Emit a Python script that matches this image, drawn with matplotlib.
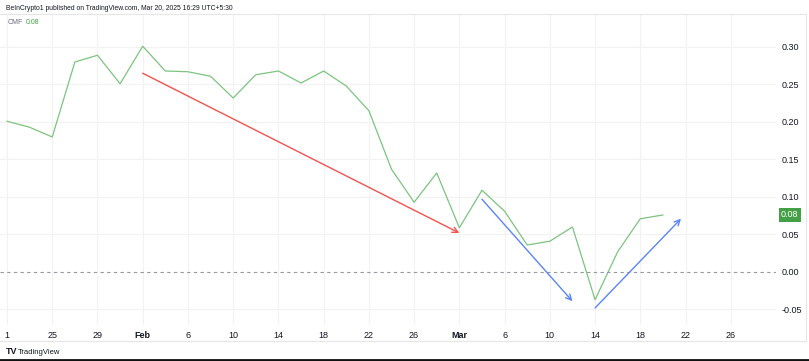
import numpy as np
import matplotlib
matplotlib.use("Agg")
import matplotlib.pyplot as plt

plt.rcParams['font.family'] = ['Liberation Sans Narrow', 'Liberation Sans', 'DejaVu Sans']

# CMF values, one per bar (bar index 0..29)
cmf = [0.201, 0.193, 0.180, 0.280, 0.289, 0.251, 0.301, 0.268, 0.267, 0.261,
       0.232, 0.263, 0.268, 0.252, 0.268, 0.248, 0.215, 0.137, 0.093, 0.132,
       0.059, 0.109, 0.081, 0.036, 0.041, 0.060, -0.037, 0.027, 0.071, 0.076]
last_label = '0.08'

tick_pos = list(range(0, 33, 2))
tick_labels = ['1', '25', '29', 'Feb', '6', '10', '14', '18', '22', '26',
               'Mar', '6', '10', '14', '18', '22', '26']
y_ticks = [-0.05, 0.00, 0.05, 0.10, 0.15, 0.20, 0.25, 0.30]

# annotation arrows: (x0, y0, x1, y1, colour)
arrows = [
    (6, 0.265, 20, 0.052, '#f4514f'),
    (21, 0.097, 25, -0.039, '#5b84f5'),
    (26, -0.048, 29.8, 0.071, '#5b84f5'),
]

W, H = 809, 361
fig = plt.figure(figsize=(W / 100, H / 100), dpi=100)
ax = fig.add_axes([0, 1 - 325 / H, 776 / W, (325 - 14) / H])

x = np.arange(len(cmf))
ax.plot(x, cmf, color='#7cc47f', lw=0.9)

for x0, y0, x1, y1, c in arrows:
    ax.annotate('', xy=(x1, y1), xytext=(x0, y0),
                arrowprops=dict(arrowstyle='->', color=c, lw=1.0,
                                mutation_scale=10, shrinkA=0, shrinkB=0))

ax.axhline(0, color='#9598a1', lw=0.8, ls=(0, (3, 3)))
for yt in y_ticks:
    if yt != 0:
        ax.axhline(yt, color='#f2f2f2', lw=0.8, zorder=0)
for xt in tick_pos:
    ax.axvline(xt, color='#f2f2f2', lw=0.8, zorder=0)

ax.set_xlim(-0.31, 34.0)
ax.set_ylim(-0.0707, 0.344)

ax.set_xticks(tick_pos)
ax.set_xticklabels(tick_labels)
for lab in ax.get_xticklabels():
    if lab.get_text() in ('Feb', 'Mar'):
        lab.set_fontweight('bold')
ax.tick_params(axis='x', length=0, pad=4, labelsize=6.5, labelcolor='#131722')

ax.yaxis.tick_right()
ax.set_yticks(y_ticks)
ax.set_yticklabels([f'{v:.2f}' for v in y_ticks])
ax.tick_params(axis='y', length=0, pad=4, labelsize=6.5, labelcolor='#131722')

for s in ax.spines.values():
    s.set_visible(False)

# last value tag on the price scale
ax.text(1.0 + 5 / 776, cmf[-1], last_label, transform=ax.get_yaxis_transform(),
        fontsize=6.5, color='white', va='center', ha='left',
        bbox=dict(boxstyle='square,pad=0.25', fc='#43a047', ec='none'))

# frame lines
frame = '#e6e6e6'
fig.add_artist(plt.Line2D([0, 806 / W], [1 - 14 / H] * 2, color=frame, lw=0.8))
fig.add_artist(plt.Line2D([0, 806 / W], [1 - 341 / H] * 2, color=frame, lw=0.8))
fig.add_artist(plt.Line2D([806 / W] * 2, [1 - 341 / H, 1 - 14 / H], color=frame, lw=0.8))
fig.add_artist(plt.Line2D([0, 1], [1 - 360 / H] * 2, color='#111111', lw=2))

fig.text(6 / W, 1 - 8 / H, 'BeInCrypto1 published on TradingView.com, Mar 20, 2025 16:29 UTC+5:30',
         fontsize=4.9, color='#131722', va='center', ha='left')
fig.text(8 / W, 1 - 23 / H, 'CMF', fontsize=5, color='#6a6d78', va='center', ha='left')
fig.text(26 / W, 1 - 23 / H, last_label, fontsize=5, color='#43a047', va='center', ha='left')
fig.text(6 / W, 1 - 352 / H, 'TV', fontsize=6.5, fontweight='bold', color='#131722', va='center', ha='left')
fig.text(18 / W, 1 - 352 / H, 'TradingView', fontsize=5.5, color='#131722', va='center', ha='left')

fig.savefig('out.png', dpi=100, facecolor='white')
